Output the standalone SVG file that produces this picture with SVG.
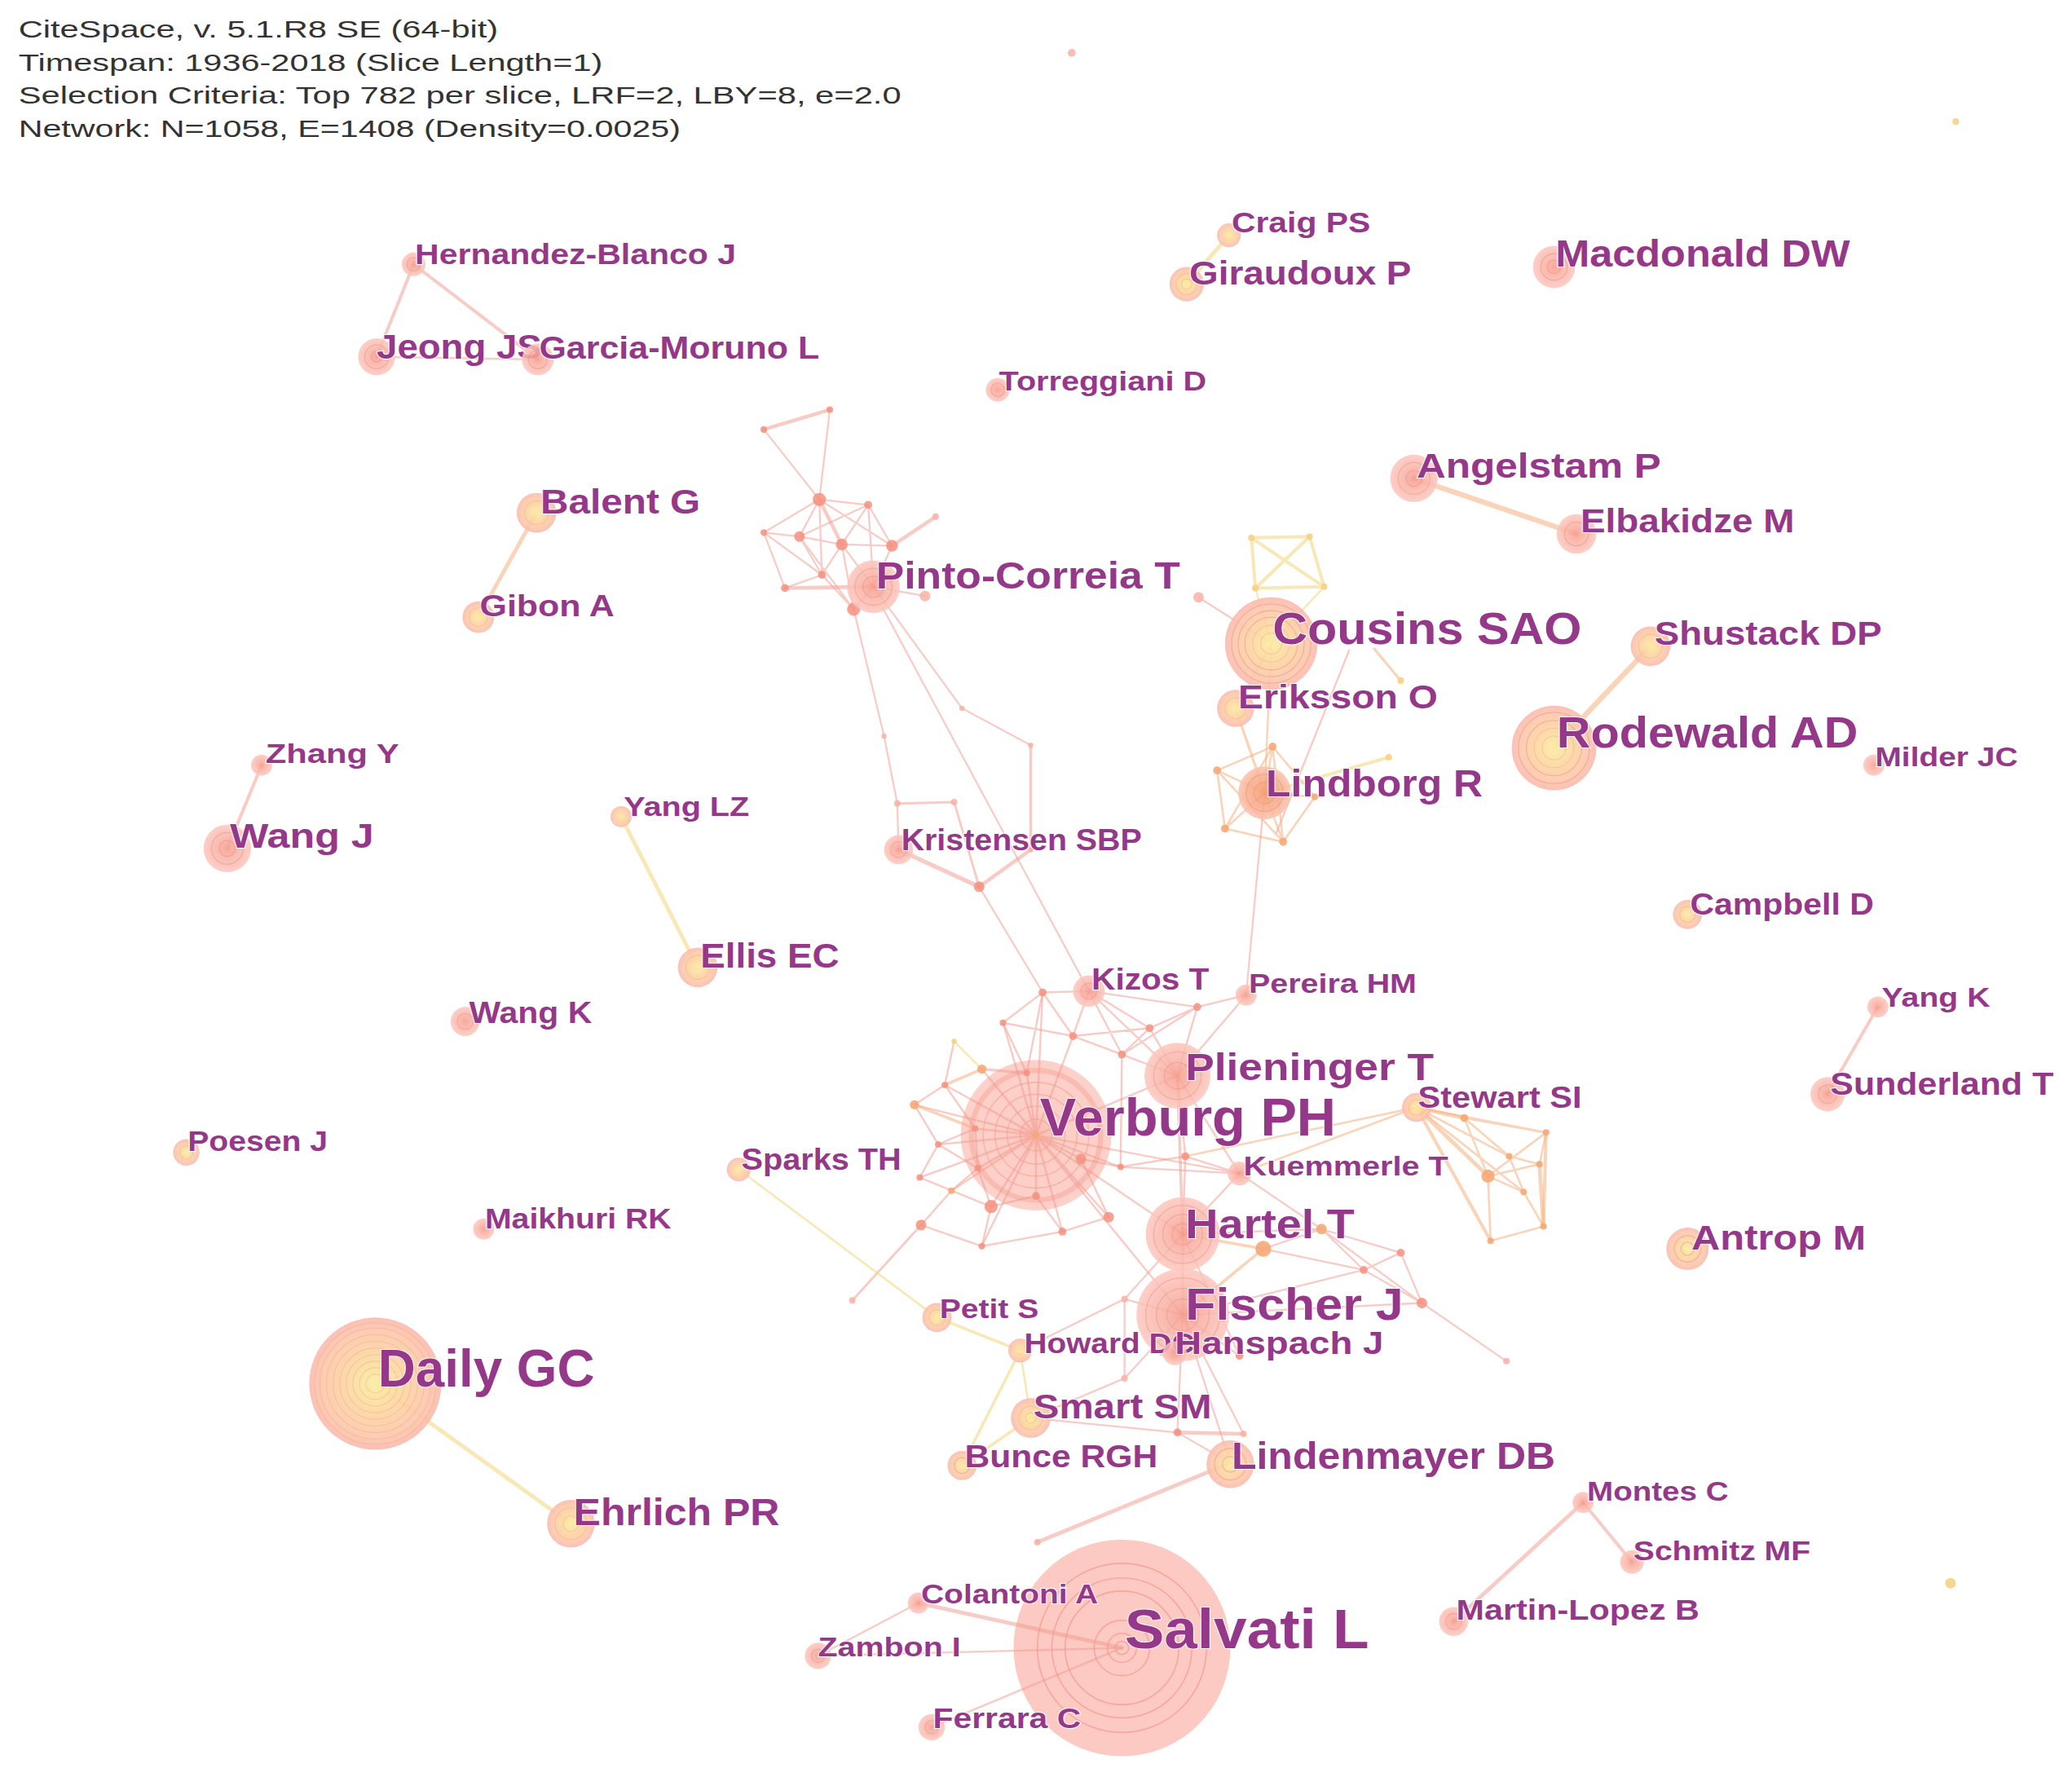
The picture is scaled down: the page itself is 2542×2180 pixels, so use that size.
<svg xmlns="http://www.w3.org/2000/svg" width="2542" height="2180" viewBox="0 0 2542 2180">
<defs>
<radialGradient id="gp"><stop offset="0" stop-color="#f69a8a"/><stop offset="0.5" stop-color="#f9b3a7"/><stop offset="1" stop-color="#fcc7be"/></radialGradient>
<radialGradient id="gpl"><stop offset="0" stop-color="#f8a898"/><stop offset="0.3" stop-color="#fbc0b6"/><stop offset="1" stop-color="#fcc6bd"/></radialGradient>
<radialGradient id="gy"><stop offset="0" stop-color="#fbec9f"/><stop offset="0.45" stop-color="#fcd4a2"/><stop offset="0.8" stop-color="#fcc6ac"/><stop offset="1" stop-color="#fbb9ae"/></radialGradient>
<radialGradient id="go"><stop offset="0" stop-color="#f59a6c"/><stop offset="0.6" stop-color="#f8ae8e"/><stop offset="1" stop-color="#fbc3b0"/></radialGradient>
<style>
.hd{font-family:"Liberation Sans",Arial,sans-serif;font-size:18.5px;fill:#333333}
.lb{font-family:"Liberation Sans",Arial,sans-serif;font-weight:bold;fill:#96388a;stroke:#ffffff;stroke-width:1.2;paint-order:stroke}
.np{fill:url(#gp);fill-opacity:0.85}
.npl{fill:url(#gpl);fill-opacity:0.8}
.ny{fill:url(#gy);fill-opacity:0.9}
.no{fill:url(#go);fill-opacity:0.88}
.ring{fill:none;stroke:#f0897d;stroke-opacity:0.45;stroke-width:0.8}
.ringy{fill:none;stroke:#f2b070;stroke-opacity:0.45;stroke-width:0.7}
.ep{stroke:#f29a8e;stroke-opacity:0.5;fill:none;stroke-linecap:round}
.ey{stroke:#f3d983;stroke-opacity:0.6;fill:none;stroke-linecap:round}
.eo{stroke:#f6b07e;stroke-opacity:0.55;fill:none;stroke-linecap:round}
.dp{fill:#f4907f;fill-opacity:0.85}
.dl{fill:#f7b2a6;fill-opacity:0.85}
.dy{fill:#f6d283;fill-opacity:0.9}
.do{fill:#f5a877;fill-opacity:0.9}
</style>
</defs>
<rect x="0" y="0" width="2542" height="2180" fill="#ffffff"/>
<g transform="scale(1.6212)">
<g id="header">
<text class="hd" x="14" y="28.5" textLength="363" lengthAdjust="spacingAndGlyphs">CiteSpace, v. 5.1.R8 SE (64-bit)</text>
<text class="hd" x="14" y="53.5" textLength="442" lengthAdjust="spacingAndGlyphs">Timespan: 1936-2018 (Slice Length=1)</text>
<text class="hd" x="14" y="78.5" textLength="668" lengthAdjust="spacingAndGlyphs">Selection Criteria: Top 782 per slice, LRF=2, LBY=8, e=2.0</text>
<text class="hd" x="14" y="103.5" textLength="501" lengthAdjust="spacingAndGlyphs">Network: N=1058, E=1408 (Density=0.0025)</text>
</g>
<g id="nodes-large">
<g id="n-salvati"><circle cx="849" cy="1247" r="82" fill="#fcc1b8" fill-opacity="0.85"/><circle cx="849" cy="1247" r="64" fill="none" stroke="#f28f83" stroke-opacity="0.6" stroke-width="1"/><circle cx="849" cy="1247" r="53" fill="none" stroke="#f28f83" stroke-opacity="0.6" stroke-width="1"/><circle cx="849" cy="1247" r="43" fill="none" stroke="#f28f83" stroke-opacity="0.6" stroke-width="1"/><circle cx="849" cy="1247" r="21" fill="none" stroke="#f28f83" stroke-opacity="0.6" stroke-width="1"/><circle cx="849" cy="1247" r="11" fill="none" stroke="#f28f83" stroke-opacity="0.6" stroke-width="1"/><circle cx="849" cy="1247" r="5" fill="none" stroke="#f28f83" stroke-opacity="0.6" stroke-width="1"/></g>
<g id="n-verburg-disc"><circle class="npl" cx="784" cy="859" r="57"/><circle cx="784" cy="859" r="49" fill="none" stroke="#f39385" stroke-opacity="0.35" stroke-width="4"/><circle class="ring" cx="784" cy="859" r="40"/><circle class="ring" cx="784" cy="859" r="31"/><circle class="ring" cx="784" cy="859" r="22"/><circle class="ring" cx="784" cy="859" r="12"/></g>
</g>
<g id="connectors">
<path class="ep" stroke-width="2.5" d="M313,200L285,270M313,200L407,272M1421,762L1383,828M1198,1137L1235,1182M198,579L172,642"/>
<path class="ep" stroke-width="1.5" d="M285,270L407,272M695,1213L619,1253M849,1247L619,1253M849,1247L705,1307"/>
<path class="ep" stroke-width="3" d="M1198,1137L1100,1227M849,1247L695,1213M931,1107L785,1167"/>
<path class="ey" stroke-width="3" d="M930,178L898,215M470,618L528,732M284,1047L432,1153"/>
<path class="eo" stroke-width="4" d="M1070,362L1193,404M1176,566L1249,489"/>
<path class="eo" stroke-width="3" d="M406,388L362,467"/>
<path class="ep" stroke-width="1.4" d="M628,310L620,378M578,325L620,378M620,378L657,382M620,378L578,403M620,378L605,406M620,378L675,413M620,378L622,435M657,382L605,406M657,382L637,412M657,382L675,413M657,382L661,444M578,403L605,406M578,403L594,445M578,403L622,435M605,406L637,412M605,406L622,435M605,406L646,461M637,412L675,413M637,412L622,435M637,412L661,444M622,435L594,445M622,435L646,461M646,461L661,444M661,444L700,451M637,412L646,461M675,413L661,444"/>
<path class="ep" stroke-width="2.8" d="M578,325L628,310M675,413L708,391M594,445L661,444M620,378L637,412"/>
<path class="ep" stroke-width="1.4" d="M646,461L669,557L679,608L680,643M661,444L728,536L780,564M668,460L824,750M741,671L789,751"/>
<path class="ep" stroke-width="2.2" d="M780,564L780,643"/>
<path class="ep" stroke-width="2.8" d="M780,643L741,671"/>
<path class="ep" stroke-width="1.8" d="M679,608L722,607L741,671"/>
<path class="ep" stroke-width="3.2" d="M680,643L741,671"/>
<path class="ey" stroke-width="2.5" d="M947,407L991,406L1002,444L950,445Z M947,407L1002,444M991,406L950,445"/>
<path class="ey" stroke-width="1.5" d="M950,445L962,487M1002,444L962,487"/>
<path class="ep" stroke-width="1.5" d="M907,452L962,487M1021,492L966,630"/>
<path class="eo" stroke-width="2" d="M962,487L935,536M1040,491L1060,515M935,536L957,600"/>
<path class="eo" stroke-width="1.5" d="M962,487L957,600"/>
<path class="eo" stroke-width="1.6" d="M921,583L963,565L995,603L971,637L927,627Z M921,583L957,600M963,565L957,600M927,627L957,600M971,637L957,600M995,603L957,600M921,583L971,637M963,565L927,627M963,565L971,637"/>
<path class="ey" stroke-width="2.5" d="M957,600L1051,573"/>
<path class="ep" stroke-width="1.4" d="M957,600L943,753"/>
<path class="ep" stroke-width="1.5" d="M824,750L789,751M824,750L812,784M824,750L870,778M824,750L906,762M824,750L849,798M824,750L891,814M906,762L870,778M906,762L891,814M906,762L849,798M870,778L891,814M870,778L849,798M812,784L849,798M812,784L870,778M849,798L891,814M789,751L759,774M789,751L812,784M789,751L777,812M759,774L812,784M759,774L777,812M849,798L848,883M943,753L891,814M943,753L906,762M891,814L938,888M891,814L897,875M722,788L715,821M715,821L692,836M715,821L738,854M692,836L710,866M738,854L710,866M738,854L740,884M710,866L696,891M710,866L740,884M696,891L720,901M720,901L740,884M720,901L750,913M740,884L750,913M750,913L743,943M750,913L784,905M784,905L804,932M804,932L839,921M839,921L818,877M804,932L743,943M697,927L720,901M697,927L743,943M818,877L848,883M848,883L897,875M897,875L938,888M897,875L895,934"/>
<path class="ep" stroke-width="1.5" d="M784,859L789,751M784,859L759,774M784,859L812,784M784,859L743,809M784,859L715,821M784,859L692,836M784,859L818,877M784,859L777,812M784,859L738,854M784,859L710,866M784,859L696,891M784,859L720,901M784,859L740,884M784,859L750,913M784,859L784,905M784,859L804,932M784,859L839,921M784,859L743,943M784,859L848,883M784,859L891,814M784,859L895,934M784,859L938,888M784,859L895,995"/>
<path class="ep" stroke-width="2.2" d="M891,814L895,934M777,812L743,809"/>
<path class="ey" stroke-width="1.5" d="M722,788L743,809"/>
<path class="eo" stroke-width="2.2" d="M743,809L715,821M692,836L738,854"/>
<path class="ep" stroke-width="1.8" d="M697,927L645,984"/>
<path class="ep" stroke-width="1.4" d="M938,888L848,883M938,888L895,934M938,888L1000,930"/>
<path class="eo" stroke-width="1.6" d="M938,888L1072,838M897,875L1072,838"/>
<path class="eo" stroke-width="3" d="M1072,838L1108,846M1072,838L1126,890M1165,881L1168,928"/>
<path class="eo" stroke-width="2.5" d="M1072,838L1128,939M1170,857L1168,928"/>
<path class="eo" stroke-width="1.6" d="M1072,838L1170,857M1072,838L1153,902M1072,838L1142,875M1108,846L1170,857M1108,846L1142,875M1170,857L1165,881M1170,857L1126,890M1168,928L1128,939M1128,939L1126,890M1126,890L1153,902M1153,902L1168,928M1142,875L1165,881M1142,875L1153,902M1126,890L1165,881M1108,846L1126,890"/>
<path class="ep" stroke-width="2.2" d="M895,934L895,995"/>
<path class="ep" stroke-width="1.4" d="M895,934L1000,930M1000,930L1060,948M1000,930L1032,961M1000,930L1076,986M1060,948L1032,961M1060,948L1076,986M1032,961L1076,986M895,995L1076,986M895,995L1032,961M956,945L1032,961M956,945L1000,930M895,934L938,1026M895,995L851,983M895,995L851,1043M895,995L938,1026M895,995L891,1084M895,995L941,1085M895,995L931,1107M891,1084L931,1107M895,934L851,983M851,983L851,1043M851,1043L780,1073M772,1022L851,983M780,1073L891,1084"/>
<path class="ep" stroke-width="1.4" d="M1076,986L1140,1030"/>
<path class="eo" stroke-width="2.2" d="M895,934L956,945M895,995L956,945"/>
<path class="ep" stroke-width="2.8" d="M891,1084L941,1085"/>
<path class="ey" stroke-width="2.2" d="M709,997L772,1022M772,1022L728,1109M780,1073L728,1109"/>
<path class="ey" stroke-width="1.6" d="M559,885L709,997M772,1022L780,1073"/>
</g>
<g id="minor-nodes">
<circle class="dp" cx="628" cy="310" r="2.5"/><circle class="dp" cx="578" cy="325" r="2.5"/><circle class="dp" cx="620" cy="378" r="5"/><circle class="dp" cx="657" cy="382" r="3"/><circle class="dl" cx="708" cy="391" r="2.5"/><circle class="dp" cx="578" cy="403" r="2.5"/><circle class="dp" cx="605" cy="406" r="4"/><circle class="dp" cx="637" cy="412" r="4.5"/><circle class="dp" cx="675" cy="413" r="4.5"/><circle class="dp" cx="622" cy="435" r="3"/><circle class="dp" cx="594" cy="445" r="3"/><circle class="dp" cx="646" cy="461" r="5"/><circle class="dl" cx="700" cy="451" r="4"/>
<circle class="dl" cx="669" cy="557" r="2"/><circle class="dl" cx="679" cy="608" r="2.5"/><circle class="dl" cx="728" cy="536" r="2"/><circle class="dl" cx="780" cy="564" r="2"/><circle class="dl" cx="780" cy="643" r="2"/><circle class="dp" cx="741" cy="671" r="4"/><circle class="dl" cx="722" cy="607" r="2.5"/>
<circle class="dy" cx="947" cy="407" r="2.5"/><circle class="dy" cx="991" cy="406" r="2.5"/><circle class="dy" cx="950" cy="445" r="2.5"/><circle class="dy" cx="1002" cy="444" r="2.5"/><circle class="dl" cx="907" cy="452" r="4"/><circle class="dy" cx="1060" cy="515" r="2.5"/>
<circle class="do" cx="921" cy="583" r="3"/><circle class="do" cx="963" cy="565" r="3"/><circle class="do" cx="927" cy="627" r="3"/><circle class="do" cx="971" cy="637" r="3"/><circle class="dy" cx="1051" cy="573" r="2.5"/><circle class="do" cx="995" cy="603" r="2.5"/>
<circle class="dp" cx="789" cy="751" r="3"/><circle class="dp" cx="906" cy="762" r="3"/><circle class="dp" cx="759" cy="774" r="2.5"/><circle class="dp" cx="812" cy="784" r="3"/><circle class="dp" cx="870" cy="778" r="3"/><circle class="dp" cx="849" cy="798" r="3"/><circle class="dy" cx="722" cy="788" r="2"/><circle class="do" cx="743" cy="809" r="3.5"/><circle class="dp" cx="715" cy="821" r="2.5"/><circle class="do" cx="692" cy="836" r="3.5"/><circle class="dp" cx="818" cy="877" r="4"/><circle class="dp" cx="777" cy="812" r="2.5"/><circle class="dp" cx="738" cy="854" r="2.5"/><circle class="dp" cx="710" cy="866" r="2.5"/><circle class="dp" cx="696" cy="891" r="2.5"/><circle class="do" cx="720" cy="901" r="2.5"/><circle class="dp" cx="740" cy="884" r="2.5"/><circle class="dp" cx="750" cy="913" r="5"/><circle class="dp" cx="784" cy="905" r="3"/><circle class="dp" cx="804" cy="932" r="3"/><circle class="dp" cx="839" cy="921" r="4"/><circle class="dp" cx="697" cy="927" r="4"/><circle class="dp" cx="743" cy="943" r="2.5"/><circle class="dp" cx="848" cy="883" r="2.5"/><circle class="dp" cx="897" cy="875" r="3"/><circle class="do" cx="784" cy="859" r="2.5"/>
<circle class="do" cx="1108" cy="846" r="3"/><circle class="do" cx="1170" cy="857" r="2.5"/><circle class="do" cx="1126" cy="890" r="5"/><circle class="do" cx="1165" cy="881" r="2.5"/><circle class="do" cx="1153" cy="902" r="2.5"/><circle class="do" cx="1128" cy="939" r="2.5"/><circle class="do" cx="1168" cy="928" r="2.5"/><circle class="do" cx="1142" cy="875" r="2.5"/>
<circle class="do" cx="1000" cy="930" r="4"/><circle class="do" cx="956" cy="945" r="6"/><circle class="dp" cx="1060" cy="948" r="3"/><circle class="dp" cx="1032" cy="961" r="3"/><circle class="dp" cx="1076" cy="986" r="4"/><circle class="dl" cx="1140" cy="1030" r="2.5"/>
<circle class="dl" cx="851" cy="983" r="2.5"/><circle class="dl" cx="851" cy="1043" r="2.5"/><circle class="dp" cx="938" cy="1026" r="3"/><circle class="dp" cx="891" cy="1084" r="3"/><circle class="dl" cx="941" cy="1085" r="2.5"/>
<circle class="dl" cx="645" cy="984" r="2.5"/><circle class="dl" cx="785" cy="1167" r="2.5"/>
<circle class="dl" cx="811" cy="40" r="3"/><circle class="dy" cx="1480" cy="92" r="2.5"/><circle class="dy" cx="1476" cy="1198" r="4"/>
</g>
<g id="labels-large">
<text class="lb" x="851" y="1247.1" font-size="42" textLength="185" lengthAdjust="spacingAndGlyphs">Salvati L</text>
<text class="lb" x="787" y="859.2" font-size="39.5" textLength="224" lengthAdjust="spacingAndGlyphs">Verburg PH</text>
</g>
<g id="n-daily"><circle class="ny" cx="284" cy="1047" r="50"/><circle class="ringy" cx="284" cy="1047" r="46"/><circle class="ringy" cx="284" cy="1047" r="42"/><circle class="ringy" cx="284" cy="1047" r="37"/><circle class="ringy" cx="284" cy="1047" r="32"/><circle class="ringy" cx="284" cy="1047" r="27"/><circle class="ringy" cx="284" cy="1047" r="22"/><circle class="ringy" cx="284" cy="1047" r="17"/><circle class="ringy" cx="284" cy="1047" r="12"/><circle class="ringy" cx="284" cy="1047" r="7"/><text class="lb" x="286" y="1049.2" font-size="39.5" textLength="164" lengthAdjust="spacingAndGlyphs">Daily GC</text></g>
<g id="n-cousins"><circle class="ny" cx="962" cy="487" r="35"/><circle class="ring" cx="962" cy="487" r="30"/><circle class="ring" cx="962" cy="487" r="25"/><circle class="ring" cx="962" cy="487" r="20"/><circle class="ringy" cx="962" cy="487" r="14"/><circle class="ringy" cx="962" cy="487" r="8"/><text class="lb" x="963" y="487.2" font-size="34" textLength="234" lengthAdjust="spacingAndGlyphs">Cousins SAO</text></g>
<g id="n-rodewald"><circle class="ny" cx="1176" cy="566" r="32"/><circle class="ring" cx="1176" cy="566" r="27"/><circle class="ring" cx="1176" cy="566" r="21"/><circle class="ringy" cx="1176" cy="566" r="15"/><circle class="ringy" cx="1176" cy="566" r="9"/><text class="lb" x="1178" y="565.9" font-size="33" textLength="228" lengthAdjust="spacingAndGlyphs">Rodewald AD</text></g>
<g id="n-fischer"><circle class="np" cx="895" cy="995" r="35" fill-opacity="0.8"/><circle class="ring" cx="895" cy="995" r="28"/><circle class="ring" cx="895" cy="995" r="20"/><circle class="ring" cx="895" cy="995" r="12"/><text class="lb" x="897" y="998.4" font-size="34.5" textLength="165" lengthAdjust="spacingAndGlyphs">Fischer J</text></g>
<g id="n-hartel"><circle class="np" cx="895" cy="934" r="28" fill-opacity="0.8"/><circle class="ring" cx="895" cy="934" r="22"/><circle class="ring" cx="895" cy="934" r="15"/><circle class="ring" cx="895" cy="934" r="8"/><text class="lb" x="897" y="937.2" font-size="31" textLength="128" lengthAdjust="spacingAndGlyphs">Hartel T</text></g>
<g id="n-plieninger"><circle class="np" cx="891" cy="814" r="25" fill-opacity="0.8"/><circle class="ring" cx="891" cy="814" r="18"/><circle class="ring" cx="891" cy="814" r="10"/><text class="lb" x="897" y="817.4" font-size="29" textLength="188" lengthAdjust="spacingAndGlyphs">Plieninger T</text></g>
<g id="n-pinto"><circle class="np" cx="661" cy="444" r="20"/><circle class="ring" cx="661" cy="444" r="14"/><circle class="ring" cx="661" cy="444" r="8"/><text class="lb" x="663" y="445.4" font-size="29" textLength="230" lengthAdjust="spacingAndGlyphs">Pinto-Correia T</text></g>
<g id="n-lindborg"><circle class="no" cx="957" cy="600" r="20"/><circle class="ring" cx="957" cy="600" r="14"/><circle class="ring" cx="957" cy="600" r="8"/><text class="lb" x="958" y="602.4" font-size="29" textLength="164" lengthAdjust="spacingAndGlyphs">Lindborg R</text></g>
<g id="n-lindenmayer"><circle class="ny" cx="931" cy="1108" r="18"/><circle class="ring" cx="931" cy="1108" r="12"/><circle class="ring" cx="931" cy="1108" r="6"/><text class="lb" x="932" y="1111.4" font-size="29" textLength="245" lengthAdjust="spacingAndGlyphs">Lindenmayer DB</text></g>
<g id="n-ehrlich"><circle class="ny" cx="432" cy="1153" r="18"/><circle class="ringy" cx="432" cy="1153" r="12"/><circle class="ringy" cx="432" cy="1153" r="6"/><text class="lb" x="434" y="1154" font-size="28" textLength="156" lengthAdjust="spacingAndGlyphs">Ehrlich PR</text></g>
<g id="n-macdonald"><circle class="np" cx="1176" cy="202" r="16"/><circle class="ring" cx="1176" cy="202" r="10"/><circle class="ring" cx="1176" cy="202" r="5"/><text class="lb" x="1177" y="202" font-size="28" textLength="223" lengthAdjust="spacingAndGlyphs">Macdonald DW</text></g>
<g id="n-angelstam"><circle class="np" cx="1070" cy="362" r="18"/><circle class="ring" cx="1070" cy="362" r="12"/><circle class="ring" cx="1070" cy="362" r="6"/><text class="lb" x="1072" y="361.5" font-size="26.5" textLength="185" lengthAdjust="spacingAndGlyphs">Angelstam P</text></g>
<g id="n-elbakidze"><circle class="np" cx="1193" cy="404" r="15"/><circle class="ring" cx="1193" cy="404" r="9"/><text class="lb" x="1196" y="403" font-size="25" textLength="162" lengthAdjust="spacingAndGlyphs">Elbakidze M</text></g>
<g id="n-balent"><circle class="ny" cx="406" cy="388" r="15"/><circle class="ringy" cx="406" cy="388" r="9"/><text class="lb" x="409" y="388.5" font-size="26.5" textLength="121" lengthAdjust="spacingAndGlyphs">Balent G</text></g>
<g id="n-gibon"><circle class="ny" cx="362" cy="467" r="12"/><circle class="ringy" cx="362" cy="467" r="7"/><text class="lb" x="363" y="466.3" font-size="23" textLength="102" lengthAdjust="spacingAndGlyphs">Gibon A</text></g>
<g id="n-hernandez"><circle class="np" cx="313" cy="200" r="9"/><circle class="ring" cx="313" cy="200" r="5"/><text class="lb" x="314" y="199.9" font-size="22" textLength="243" lengthAdjust="spacingAndGlyphs">Hernandez-Blanco J</text></g>
<g id="n-jeong"><circle class="np" cx="285" cy="270" r="14"/><circle class="ring" cx="285" cy="270" r="9"/><circle class="ring" cx="285" cy="270" r="4"/><text class="lb" x="285" y="271.4" font-size="26" textLength="125" lengthAdjust="spacingAndGlyphs">Jeong JS</text></g>
<g id="n-garcia"><circle class="np" cx="407" cy="272" r="12"/><circle class="ring" cx="407" cy="272" r="7"/><text class="lb" x="408" y="271.5" font-size="23.5" textLength="212" lengthAdjust="spacingAndGlyphs">Garcia-Moruno L</text></g>
<g id="n-torreggiani"><circle class="np" cx="755" cy="295" r="9"/><circle class="ring" cx="755" cy="295" r="5"/><text class="lb" x="756" y="295.6" font-size="21" textLength="157" lengthAdjust="spacingAndGlyphs">Torreggiani D</text></g>
<g id="n-craig"><circle class="ny" cx="930" cy="178" r="9"/><text class="lb" x="932" y="175.9" font-size="22" textLength="105" lengthAdjust="spacingAndGlyphs">Craig PS</text></g>
<g id="n-giraudoux"><circle class="ny" cx="898" cy="215" r="13"/><circle class="ringy" cx="898" cy="215" r="8"/><circle class="ringy" cx="898" cy="215" r="4"/><text class="lb" x="900" y="215" font-size="25" textLength="168" lengthAdjust="spacingAndGlyphs">Giraudoux P</text></g>
<g id="n-shustack"><circle class="ny" cx="1249" cy="489" r="15"/><circle class="ringy" cx="1249" cy="489" r="9"/><text class="lb" x="1252" y="488" font-size="25" textLength="172" lengthAdjust="spacingAndGlyphs">Shustack DP</text></g>
<g id="n-eriksson"><circle class="ny" cx="935" cy="536" r="14"/><circle class="ringy" cx="935" cy="536" r="8"/><text class="lb" x="937" y="536" font-size="25" textLength="151" lengthAdjust="spacingAndGlyphs">Eriksson O</text></g>
<g id="n-milder"><circle class="np" cx="1418" cy="579" r="8"/><text class="lb" x="1419" y="579.6" font-size="21" textLength="108" lengthAdjust="spacingAndGlyphs">Milder JC</text></g>
<g id="n-zhang"><circle class="np" cx="198" cy="579" r="8"/><text class="lb" x="201" y="577.6" font-size="21" textLength="101" lengthAdjust="spacingAndGlyphs">Zhang Y</text></g>
<g id="n-wangj"><circle class="np" cx="172" cy="642" r="18"/><circle class="ring" cx="172" cy="642" r="12"/><circle class="ring" cx="172" cy="642" r="6"/><text class="lb" x="174" y="641.5" font-size="26.5" textLength="109" lengthAdjust="spacingAndGlyphs">Wang J</text></g>
<g id="n-yanglz"><circle class="ny" cx="470" cy="618" r="8"/><text class="lb" x="472" y="617.6" font-size="21" textLength="95" lengthAdjust="spacingAndGlyphs">Yang LZ</text></g>
<g id="n-kristensen"><circle class="np" cx="680" cy="643" r="11"/><circle class="ring" cx="680" cy="643" r="6"/><text class="lb" x="682" y="643.1" font-size="22.5" textLength="182" lengthAdjust="spacingAndGlyphs">Kristensen SBP</text></g>
<g id="n-campbell"><circle class="ny" cx="1277" cy="692" r="11"/><circle class="ringy" cx="1277" cy="692" r="6"/><text class="lb" x="1279" y="692.1" font-size="22.5" textLength="139" lengthAdjust="spacingAndGlyphs">Campbell D</text></g>
<g id="n-ellis"><circle class="ny" cx="528" cy="732" r="15"/><circle class="ringy" cx="528" cy="732" r="9"/><text class="lb" x="530" y="732.4" font-size="26" textLength="105" lengthAdjust="spacingAndGlyphs">Ellis EC</text></g>
<g id="n-kizos"><circle class="np" cx="824" cy="750" r="12"/><circle class="ring" cx="824" cy="750" r="6"/><text class="lb" x="826" y="749.1" font-size="22.5" textLength="89" lengthAdjust="spacingAndGlyphs">Kizos T</text></g>
<g id="n-pereira"><circle class="np" cx="943" cy="753" r="8"/><text class="lb" x="945" y="751.6" font-size="21" textLength="127" lengthAdjust="spacingAndGlyphs">Pereira HM</text></g>
<g id="n-wangk"><circle class="np" cx="352" cy="773" r="11"/><circle class="ring" cx="352" cy="773" r="6"/><text class="lb" x="355" y="774.1" font-size="22.5" textLength="93" lengthAdjust="spacingAndGlyphs">Wang K</text></g>
<g id="n-yangk"><circle class="np" cx="1421" cy="762" r="8"/><text class="lb" x="1424" y="761.6" font-size="21" textLength="82" lengthAdjust="spacingAndGlyphs">Yang K</text></g>
<g id="n-sunderland"><circle class="np" cx="1383" cy="828" r="13"/><circle class="ring" cx="1383" cy="828" r="7"/><text class="lb" x="1385" y="828.5" font-size="23.5" textLength="169" lengthAdjust="spacingAndGlyphs">Sunderland T</text></g>
<g id="n-stewart"><circle class="ny" cx="1072" cy="838" r="11"/><circle class="ringy" cx="1072" cy="838" r="6"/><text class="lb" x="1073" y="838.1" font-size="22.5" textLength="124" lengthAdjust="spacingAndGlyphs">Stewart SI</text></g>
<g id="n-poesen"><circle class="ny" cx="141" cy="872" r="10"/><circle class="ringy" cx="141" cy="872" r="5"/><text class="lb" x="142" y="870.7" font-size="21.5" textLength="106" lengthAdjust="spacingAndGlyphs">Poesen J</text></g>
<g id="n-sparks"><circle class="ny" cx="559" cy="885" r="9"/><text class="lb" x="561" y="885.3" font-size="23" textLength="121" lengthAdjust="spacingAndGlyphs">Sparks TH</text></g>
<g id="n-kuemmerle"><circle class="np" cx="938" cy="888" r="9"/><text class="lb" x="941" y="889.6" font-size="21" textLength="155" lengthAdjust="spacingAndGlyphs">Kuemmerle T</text></g>
<g id="n-maikhuri"><circle class="np" cx="366" cy="930" r="8"/><text class="lb" x="367" y="929.7" font-size="21.5" textLength="141" lengthAdjust="spacingAndGlyphs">Maikhuri RK</text></g>
<g id="n-antrop"><circle class="ny" cx="1277" cy="945" r="16"/><circle class="ring" cx="1277" cy="945" r="10"/><circle class="ring" cx="1277" cy="945" r="5"/><text class="lb" x="1280" y="945.5" font-size="26.5" textLength="132" lengthAdjust="spacingAndGlyphs">Antrop M</text></g>
<g id="n-petit"><circle class="ny" cx="709" cy="997" r="11"/><circle class="ringy" cx="709" cy="997" r="6"/><text class="lb" x="711" y="997.6" font-size="21" textLength="75" lengthAdjust="spacingAndGlyphs">Petit S</text></g>
<g id="n-howard"><circle class="ny" cx="772" cy="1022" r="9"/><text class="lb" x="775" y="1023.7" font-size="21.5" textLength="129" lengthAdjust="spacingAndGlyphs">Howard DC</text></g>
<g id="n-hanspach"><circle class="np" cx="889" cy="1024" r="9"/><text class="lb" x="889" y="1024.5" font-size="23.5" textLength="158" lengthAdjust="spacingAndGlyphs">Hanspach J</text></g>
<g id="n-smart"><circle class="ny" cx="780" cy="1073" r="15"/><circle class="ringy" cx="780" cy="1073" r="9"/><circle class="ringy" cx="780" cy="1073" r="4"/><text class="lb" x="782" y="1073.5" font-size="26.5" textLength="135" lengthAdjust="spacingAndGlyphs">Smart SM</text></g>
<g id="n-bunce"><circle class="ny" cx="728" cy="1109" r="11"/><circle class="ring" cx="728" cy="1109" r="6"/><text class="lb" x="730" y="1110.5" font-size="23.5" textLength="146" lengthAdjust="spacingAndGlyphs">Bunce RGH</text></g>
<g id="n-montes"><circle class="np" cx="1198" cy="1137" r="8"/><text class="lb" x="1201" y="1135.6" font-size="21" textLength="107" lengthAdjust="spacingAndGlyphs">Montes C</text></g>
<g id="n-schmitz"><circle class="np" cx="1235" cy="1182" r="9"/><text class="lb" x="1236" y="1180.6" font-size="21" textLength="134" lengthAdjust="spacingAndGlyphs">Schmitz MF</text></g>
<g id="n-martinlopez"><circle class="np" cx="1100" cy="1227" r="11"/><circle class="ring" cx="1100" cy="1227" r="6"/><text class="lb" x="1102" y="1225.9" font-size="22" textLength="184" lengthAdjust="spacingAndGlyphs">Martin-Lopez B</text></g>
<g id="n-colantoni"><circle class="np" cx="695" cy="1213" r="8"/><text class="lb" x="697" y="1213.6" font-size="21" textLength="134" lengthAdjust="spacingAndGlyphs">Colantoni A</text></g>
<g id="n-zambon"><circle class="np" cx="619" cy="1253" r="10"/><circle class="ring" cx="619" cy="1253" r="5"/><text class="lb" x="619" y="1253.6" font-size="21" textLength="108" lengthAdjust="spacingAndGlyphs">Zambon I</text></g>
<g id="n-ferrara"><circle class="np" cx="705" cy="1307" r="10"/><circle class="ring" cx="705" cy="1307" r="5"/><text class="lb" x="706" y="1307.9" font-size="22" textLength="112" lengthAdjust="spacingAndGlyphs">Ferrara C</text></g>
</g>
</svg>
